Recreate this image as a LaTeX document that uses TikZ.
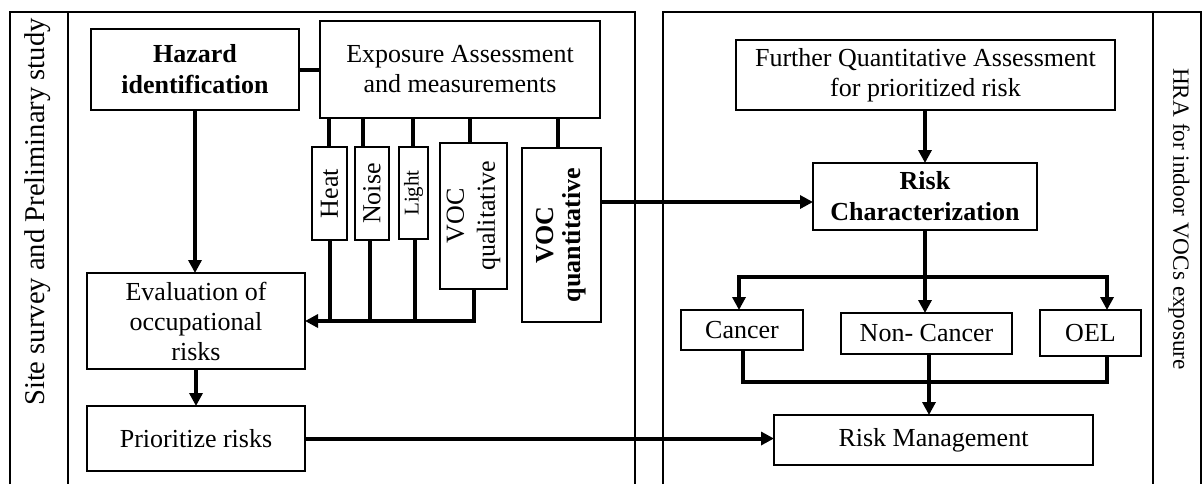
\documentclass[tikz,border=0pt]{standalone}
\usepackage{fontspec}
\setmainfont{Liberation Serif}
\usetikzlibrary{arrows.meta}
\begin{document}
\begin{tikzpicture}[x=0.5pt,y=-0.5pt,
  frame/.style={line width=1pt},
  box/.style={draw,line width=1.35pt,inner sep=0pt,outer sep=0pt,align=center,font=\fontsize{13}{15}\selectfont},
  boldbox/.style={box,font=\fontsize{13}{15.5}\selectfont\bfseries},
  sbox/.style={draw,line width=0.9pt,inner sep=0pt,outer sep=0pt},
  lbl/.style={inner sep=0pt,align=center,font=\fontsize{13}{15}\selectfont},
  conn/.style={line width=2pt},
  arr/.style={line width=2pt,-{Triangle[length=6.5pt,width=6.5pt]}},
  arrb/.style={line width=2pt,{Triangle[length=6.5pt,width=6.5pt]}-{Triangle[length=6.5pt,width=6.5pt]}}]
\useasboundingbox (0,0) rectangle (1203,484);
% frames
\draw[frame] (10,484) -- (10,12) -- (635,12) -- (635,484);
\draw[frame] (68,12) -- (68,484);
\draw[frame] (663,484) -- (663,12) -- (1201,12) -- (1201,484);
\draw[frame] (1153,12) -- (1153,484);
\node[inner sep=0pt,rotate=90,font=\fontsize{14.3}{17}\selectfont] (side) at (38,212) {Site survey and Preliminary study};
\node[inner sep=0pt,rotate=-90,font=\fontsize{11.6}{14}\selectfont] (hra) at (1179,219) {HRA for indoor VOCs exposure};
% left part
\node[boldbox,minimum width=104pt,minimum height=40.5pt] (haz) at (195,69.5) {Hazard\\identification};
\node[box,minimum width=140pt,minimum height=48.5pt] (exp) at (460,69.5) {Exposure Assessment\\and measurements};
\node[sbox,minimum width=17.5pt,minimum height=46.5pt] (heat) at (329.5,193.5) {};
\node[lbl,rotate=90] (heatT) at (heat.center) {Heat};
\node[sbox,minimum width=17pt,minimum height=46.5pt] (noise) at (372,193.5) {};
\node[lbl,rotate=90] (noiseT) at (noise.center) {Noise};
\node[sbox,minimum width=14.5pt,minimum height=46pt] (light) at (413.5,193) {};
\node[lbl,rotate=90,font=\fontsize{10.5}{12}\selectfont] (lightT) at (light.center) {Light};
\node[sbox,minimum width=33.5pt,minimum height=73pt] (vocql) at (473.5,216) {};
\node[lbl,rotate=90,font=\fontsize{13}{15.5}\selectfont] (vocqlT) at (vocql.center) {VOC\\qualitative};
\node[sbox,minimum width=39.5pt,minimum height=87pt] (vocqt) at (561.5,235) {};
\node[lbl,rotate=90,font=\fontsize{13}{13.5}\selectfont\bfseries] (vocqtT) at (vocqt.center) {VOC\\quantitative};
\node[box,minimum width=109pt,minimum height=48pt] (eval) at (196,321) {Evaluation of\\occupational\\risks};
\node[box,minimum width=109pt,minimum height=32.5pt] (prio) at (196,438.5) {Prioritize risks};
% right part
\node[box,minimum width=189.5pt,minimum height=35pt] (fur) at (925.5,75) {Further Quantitative Assessment\\for prioritized risk};
\node[boldbox,minimum width=112pt,minimum height=33.5pt] (rc) at (925,196.5) {Risk\\Characterization};
\node[box,minimum width=61pt,minimum height=20pt] (cancer) at (742,330) {Cancer};
\node[box,minimum width=85.5pt,minimum height=20.5pt] (noncancer) at (926.5,333.5) {Non- Cancer};
\node[box,minimum width=50.5pt,minimum height=23pt] (oel) at (1090.5,333) {OEL};
\node[box,minimum width=159.5pt,minimum height=25pt] (rm) at (933.5,440) {Risk Management};
% connectors left
\draw[conn] (haz.east) -- (exp.west);
\draw[arr] (haz.south) -- (haz.south |- eval.north);
\draw[arr] (eval.south) -- (eval.south |- prio.north);
\coordinate (t1) at (329,0);
\coordinate (t2) at (363,0);
\coordinate (t3) at (413,0);
\coordinate (t4) at (470,0);
\coordinate (t5) at (558,0);
\draw[conn] (t1 |- exp.south) -- (t1 |- heat.north);
\draw[conn] (t2 |- exp.south) -- (t2 |- noise.north);
\draw[conn] (t3 |- exp.south) -- (t3 |- light.north);
\draw[conn] (t4 |- exp.south) -- (t4 |- vocql.north);
\draw[conn] (t5 |- exp.south) -- (t5 |- vocqt.north);
\coordinate (b2) at (370,0);
\coordinate (b3) at (415,0);
\draw[conn] (heat.south) -- (heat.south |- eval.east);
\draw[conn] (b2 |- noise.south) -- (b2 |- eval.east);
\draw[conn] (b3 |- light.south) -- (b3 |- eval.east);
\draw[arr] (vocql.south) |- (eval.east);
% connectors across
\coordinate (ya) at (0,202);
\draw[arr] (vocqt.east |- ya) -- (rc.west |- ya);
\draw[arr] (prio.east) -- (prio.east -| rm.west);
% connectors right
\draw[arr] (rc.north |- fur.south) -- (rc.north);
\coordinate (bL) at (739,277);
\coordinate (bR) at (1107,277);
\draw[arrb] (bL |- cancer.north) -- (bL) -- (bR) -- (bR |- oel.north);
\draw[arr] (rc.south) -- (rc.south |- noncancer.north);
\coordinate (mL) at (743,382);
\coordinate (mR) at (1107,382);
\draw[conn] (mL |- cancer.south) -- (mL) -- (mR) -- (mR |- oel.south);
\coordinate (xn) at (929,0);
\draw[arr] (xn |- noncancer.south) -- (xn |- rm.north);
\end{tikzpicture}
\end{document}
